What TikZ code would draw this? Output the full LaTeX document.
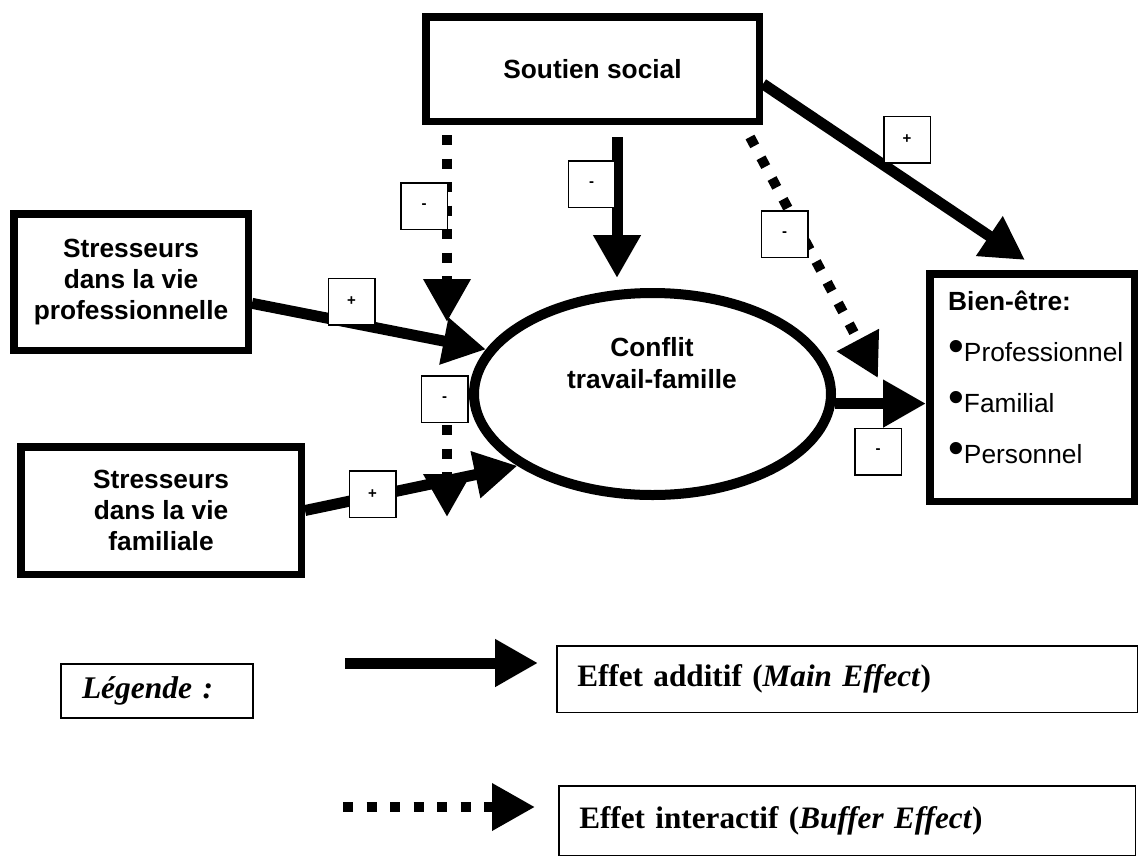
\documentclass[tikz,border=0pt]{standalone}
\usepackage{fontspec}
\setmainfont{Liberation Sans}
\newfontfamily\legendfont{Liberation Serif}
\usetikzlibrary{arrows.meta,shapes.geometric}
\newcommand{\puce}{{\fontsize{45}{45}\selectfont •}}

\begin{document}
\begin{tikzpicture}[x=1pt, y=-1pt,
  font=\fontsize{26.3}{31}\selectfont\bfseries,
  bigbox/.style={draw, line width=7.5pt, inner sep=0pt, align=center},
  sign/.style={draw, fill=white, line width=1.5pt, minimum size=46.5pt, inner sep=0pt, font=\fontsize{15}{15}\selectfont\bfseries},
  mainarrow/.style={line width=11pt, -{Triangle[length=43pt,width=45pt]}},
  bufferarrow/.style={line width=10pt, dash pattern=on 10pt off 13.5pt, -{Triangle[length=43pt,width=45pt]}},
  legbox/.style={draw, line width=1.5pt, inner ysep=0pt, align=left, anchor=west, font=\legendfont\fontsize{31.2}{36}\selectfont\bfseries}]

\useasboundingbox (0,0) rectangle (1140,857);

\node[bigbox, minimum width=333.5pt, minimum height=104.5pt] (soutien) at (592.5,69) {Soutien social};
\node[bigbox, minimum width=234.5pt, minimum height=136.5pt] (prof) at (131,282) {Stresseurs\\dans la vie\\professionnelle};
\node[bigbox, minimum width=280.5pt, minimum height=127.5pt] (fam) at (161,510.5) {Stresseurs\\dans la vie\\familiale};
\node[bigbox, minimum width=204.5pt, minimum height=227.5pt] (bien) at (1032,387.5) {};
\node[anchor=north west, align=left, inner sep=0pt, font=\fontsize{26.3}{51}\selectfont] (bientext) at (948,291) {\textbf{Bien-être:}\\\puce Professionnel\\\puce Familial\\\puce Personnel};

\node[draw, ellipse, line width=10pt, minimum width=357pt, minimum height=202pt, inner sep=0pt] (conflit) at (652.5,394) {};
\node[align=center, font=\fontsize{26.3}{32}\selectfont\bfseries] (conflittext) at (652,363) {Conflit\\travail-famille};

\coordinate (profmod) at (447,322);
\coordinate (famstart) at (447,378);
\coordinate (fammod) at (447,517);
\coordinate (bienmod) at (878,378);

\draw[mainarrow] (prof.-10) -- (conflit.165);
\draw[mainarrow] (fam.east) -- (conflit.208);
\draw[mainarrow, shorten <=12pt, shorten >=10pt] ([xshift=24.5pt]soutien.south) -- ([xshift=-35.5pt]conflit.north);
\draw[mainarrow] (soutien.-5) -- ([xshift=-7pt,yshift=10pt]bien.north);
\draw[mainarrow] (conflit.-3) -- (conflit.-3 -| bien.west);

\draw[bufferarrow, shorten <=10pt] ([xshift=-145.5pt]soutien.south) -- (profmod);
\draw[bufferarrow] (famstart) -- (fammod);
\draw[bufferarrow] ([xshift=-13pt,yshift=-12pt]soutien.south east) -- (bienmod);

\node[sign] (profsign) at (351.5,301.5) {+};
\node[sign] (famsign) at (372.5,494) {+};
\node[sign] (profmodsign) at (424,206) {-};
\node[sign] (soutiensign) at (591.5,184) {-};
\node[sign] (fammodsign) at (444.5,399) {-};
\node[sign] (bienmodsign) at (784.5,234) {-};
\node[sign] (soutienbiensign) at (907,139.5) {+};
\node[sign] (conflitsign) at (878,451.5) {-};

\node[legbox, line width=2pt, text width=150pt, inner xsep=21pt, minimum height=54pt, font=\legendfont\fontsize{31.5}{36}\selectfont\bfseries\itshape] (legende) at (60,691) {Légende :};
\node[legbox, text width=539.5pt, inner xsep=20.5pt, minimum height=66.5pt] (mainlegend) at (556,679) {Effet additif (\textit{Main Effect})};
\node[legbox, text width=535.5pt, inner xsep=20.5pt, minimum height=69.5pt] (bufferlegend) at (558,820.5) {Effet interactif (\textit{Buffer Effect})};

\coordinate (mainstart) at (345,663);
\coordinate (mainend) at (538,663);
\coordinate (bufferstart) at (343,807);
\coordinate (bufferend) at (535,807);
\draw[mainarrow] (mainstart) -- (mainend);
\draw[bufferarrow] (bufferstart) -- (bufferend);

\end{tikzpicture}
\end{document}
